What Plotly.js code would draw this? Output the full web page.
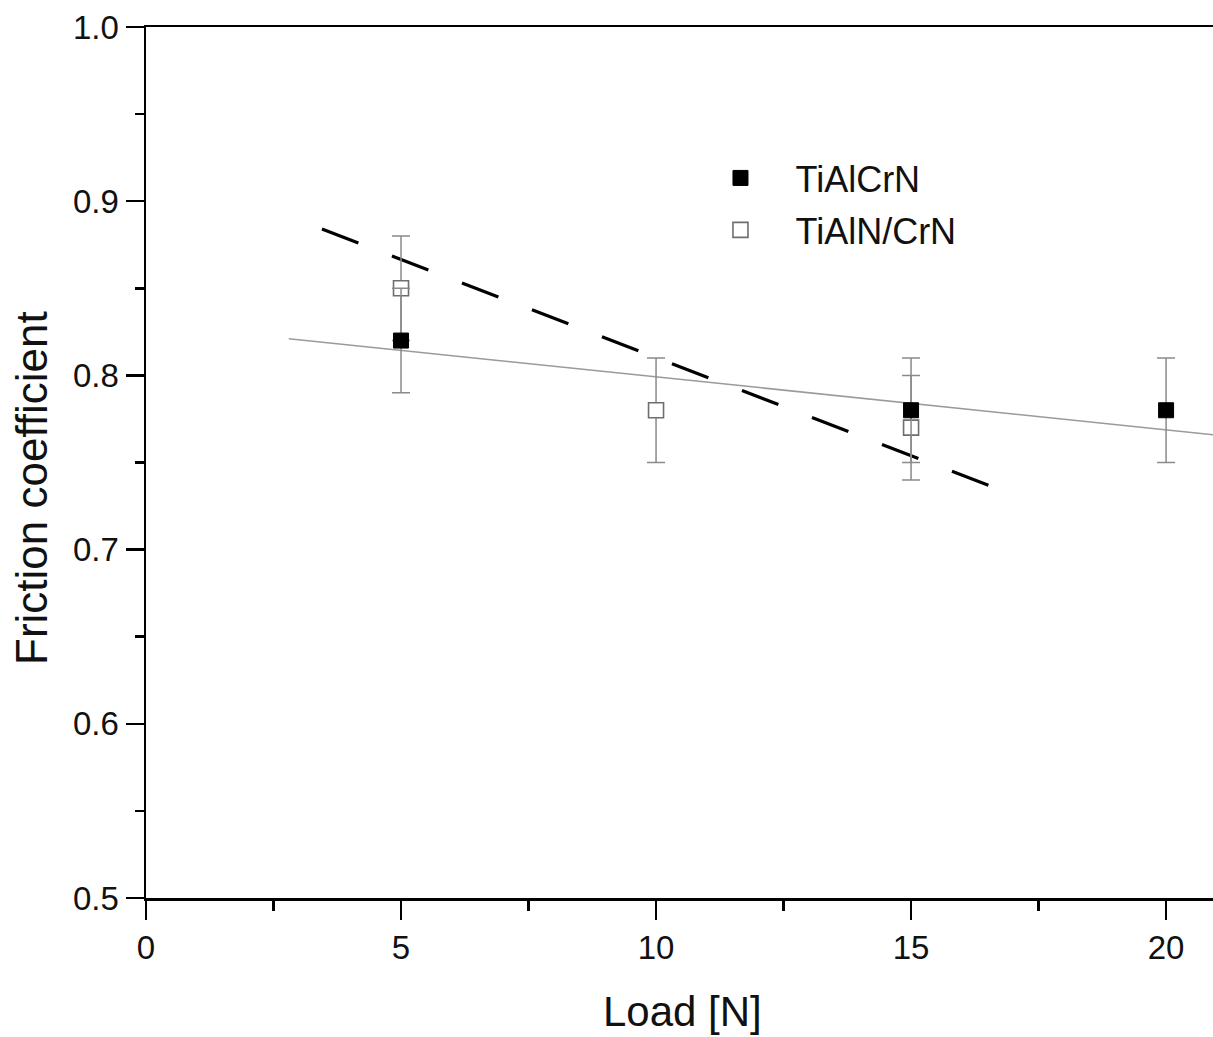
<!DOCTYPE html>
<html>
<head>
<meta charset="utf-8">
<script src="https://cdn.plot.ly/plotly-3.0.1.min.js"></script>
<style>html,body{margin:0;padding:0;background:#fff;}#chart{width:1213px;height:1037px;}</style>
</head>
<body>
<div id="chart"></div>
<script>
// Data
const loadTiAlCrN = [5, 15, 20];
const muTiAlCrN = [0.82, 0.78, 0.78];
const errTiAlCrN = [0.03, 0.03, 0.03];

const loadTiAlNCrN = [5, 10, 15];
const muTiAlNCrN = [0.85, 0.78, 0.77];
const errTiAlNCrN = [0.03, 0.03, 0.03];

// Fit lines (endpoints)
const fitSolidX = [2.8, 20.92];
const fitSolidY = [0.821, 0.766];
const fitDashX = [3.45, 16.55];
const fitDashY = [0.884, 0.7365];

const yTickVals = [0.5, 0.6, 0.7, 0.8, 0.9, 1.0];
const xTickVals = [0, 5, 10, 15, 20];

const FONT = 'Liberation Sans, Arial, sans-serif';

const traces = [
  {x: fitSolidX, y: fitSolidY, mode: 'lines', line: {color: '#9a9a9a', width: 1.5}, showlegend: false, hoverinfo: 'skip'},
  {x: fitDashX, y: fitDashY, mode: 'lines', line: {color: '#000', width: 3.2, dash: '39px,36px'}, showlegend: false, hoverinfo: 'skip'},
  {x: loadTiAlNCrN, y: muTiAlNCrN, name: 'TiAlN/CrN', mode: 'markers', legend: 'legend2',
   marker: {symbol: 'square', size: 15, color: '#fff', line: {color: '#6e6e6e', width: 1.6}},
   error_y: {type: 'data', array: errTiAlNCrN, visible: true, color: '#8a8a8a', thickness: 1.5, width: 9}},
  {x: loadTiAlCrN, y: muTiAlCrN, name: 'TiAlCrN', mode: 'markers', legend: 'legend',
   marker: {symbol: 'square', size: 15, color: '#000', line: {color: '#000', width: 1}},
   error_y: {type: 'data', array: errTiAlCrN, visible: true, color: '#8a8a8a', thickness: 1.5, width: 9}}
];

const layout = {
  width: 1213, height: 1037,
  margin: {l: 146, r: 0, t: 27, b: 139},
  paper_bgcolor: '#fff', plot_bgcolor: '#fff',
  font: {family: FONT, color: '#111'},
  showlegend: true,
  legend: {x: 0.5056, y: 0.8266, xanchor: 'left', yanchor: 'middle', bgcolor: 'rgba(0,0,0,0)',
           font: {size: 36, family: FONT, color: '#111'}, itemwidth: 100},
  legend2: {x: 0.5056, y: 0.767, xanchor: 'left', yanchor: 'middle', bgcolor: 'rgba(0,0,0,0)',
           font: {size: 36, family: FONT, color: '#111'}, itemwidth: 100},
  xaxis: {
    range: [0, 20.92], showgrid: false, zeroline: false,
    showline: true, linecolor: '#000', linewidth: 2.5, mirror: true,
    ticks: 'outside', ticklen: 19, tickwidth: 2.5, tickcolor: '#000',
    tickvals: xTickVals, ticktext: xTickVals.map(String),
    tickfont: {size: 33, family: FONT, color: '#111'},
    minor: {tickvals: [2.5, 7.5, 12.5, 17.5], ticks: 'outside', ticklen: 10, tickwidth: 2.5, tickcolor: '#000', showgrid: false}
  },
  yaxis: {
    range: [0.5, 1.0], showgrid: false, zeroline: false,
    showline: true, linecolor: '#000', linewidth: 2.5,
    ticks: 'outside', ticklen: 18, tickwidth: 2.5, tickcolor: '#000',
    tickvals: yTickVals, ticktext: yTickVals.map(v => v.toFixed(1)),
    tickfont: {size: 33, family: FONT, color: '#111'},
    minor: {tickvals: [0.55, 0.65, 0.75, 0.85, 0.95], ticks: 'outside', ticklen: 9, tickwidth: 2.5, tickcolor: '#000', showgrid: false}
  },
  annotations: [
    {text: 'Friction coefficient', xref: 'paper', yref: 'paper', x: (31 - 146) / 1067, y: (898 - 488) / 871,
     xanchor: 'center', yanchor: 'middle', textangle: -90, showarrow: false,
     font: {size: 44, family: FONT, color: '#111'}},
    {text: 'Load [N]', xref: 'paper', yref: 'paper', x: (682 - 146) / 1067, y: (898 - 1012) / 871,
     xanchor: 'center', yanchor: 'middle', showarrow: false,
     font: {size: 42, family: FONT, color: '#111'}}
  ]
};

Plotly.newPlot('chart', traces, layout, {staticPlot: true, displayModeBar: false});
</script>
</body>
</html>
